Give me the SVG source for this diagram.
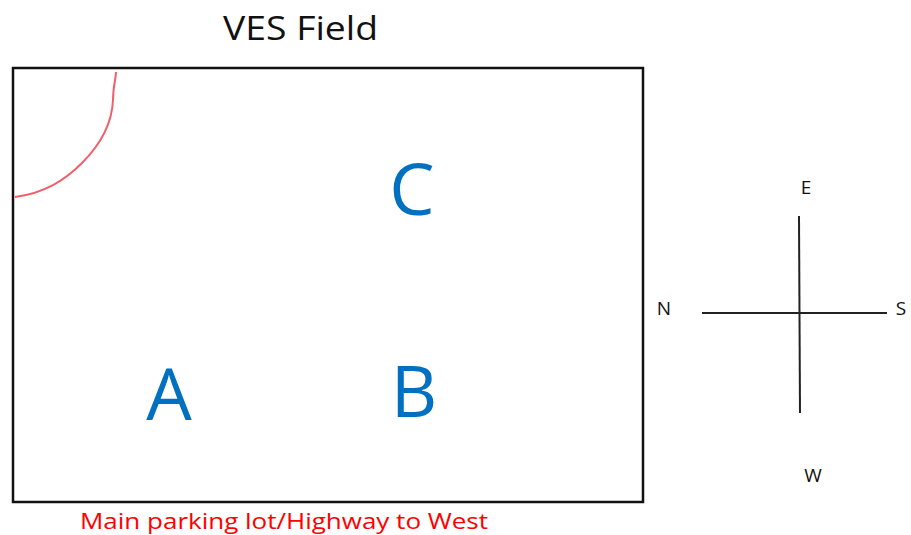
<svg xmlns="http://www.w3.org/2000/svg" width="911" height="535" viewBox="0 0 911 535">
<style>
.t{font-family:"Open Sans","Liberation Sans",sans-serif}
.big{font-size:72px;fill:#0070C0}
.dir{font-size:19px;fill:#111}
.ln{stroke:#222;stroke-width:2;fill:none}
</style>
<rect width="911" height="535" fill="#fff"/>
<text class="t" x="223" y="40" font-size="33" fill="#111" textLength="155" lengthAdjust="spacingAndGlyphs">VES Field</text>
<g id="field">
<rect x="13" y="68" width="630" height="434" fill="none" stroke="#111" stroke-width="2.5"/>
<path d="M116,72 C116,78 113,86 113,100 C112,125 100,145 82,163 C65,180 45,193 15,197" fill="none" stroke="#f0606a" stroke-width="2"/>
</g>
<g id="C"><text class="t big" x="412" y="215" text-anchor="middle">C</text></g>
<g id="A"><text class="t big" x="169" y="420" text-anchor="middle">A</text></g>
<g id="B"><text class="t big" x="414" y="417" text-anchor="middle">B</text></g>
<g id="compass">
<line class="ln" x1="799" y1="216" x2="800" y2="413"/>
<line class="ln" x1="702" y1="313" x2="887" y2="313"/>
<text class="t dir" x="806" y="194" text-anchor="middle">E</text>
<text class="t dir" x="664" y="315" text-anchor="middle">N</text>
<text class="t dir" x="901" y="315" text-anchor="middle">S</text>
<text class="t dir" x="813" y="482" text-anchor="middle">W</text>
</g>
<text class="t" x="80" y="529" font-size="22" fill="#ff0000" textLength="408" lengthAdjust="spacingAndGlyphs">Main parking lot/Highway to West</text>
</svg>
